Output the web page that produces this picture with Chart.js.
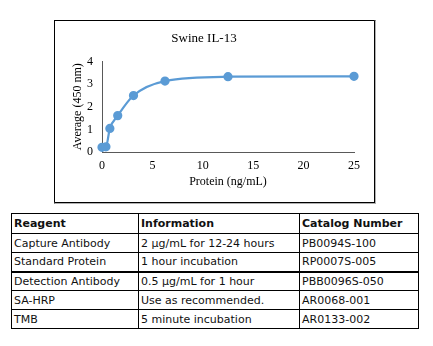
<!DOCTYPE html>
<html>
<head>
<meta charset="utf-8">
<style>
  body { margin: 0; width: 433px; height: 346px; background: #fff; position: relative; overflow: hidden; }
  #frame { position: absolute; left: 54px; top: 20px; width: 322px; height: 184px; box-sizing: border-box;
           border-style: solid; border-color: #000 #b0b0b0 #b0b0b0 #000; border-width: 1px 2px 2px 1px;
           z-index: 2; pointer-events: none; }
  #frame::after { content: ''; position: absolute; left: 0; top: 0; right: -1px; bottom: -1px;
                  border-right: 1px solid #000; border-bottom: 1px solid #000; }
  #chart { position: absolute; left: 54px; top: 20px; display: block; }
  table { position: absolute; left: 11px; top: 213px; border-collapse: collapse; table-layout: fixed; width: 407px;
          font-family: "DejaVu Sans", Verdana, sans-serif; font-size: 11px; color: #111; }
  td, th { border: 1px solid #000; padding: 0 2px; height: 19px; text-align: left; white-space: nowrap; box-sizing: border-box; }
  th { font-weight: bold; height: 20px; }
  tr.split td { border-bottom: 2px solid #000; }
</style>
</head>
<body>
<canvas id="chart" width="321" height="183"></canvas>
<div id="frame"></div>
<table id="reagents">
  <colgroup><col style="width:127px"><col style="width:161px"><col style="width:119px"></colgroup>
  <thead></thead>
  <tbody></tbody>
</table>

<script src="https://cdn.jsdelivr.net/npm/chart.js"></script>
<script>
  // standard curve: protein concentration (ng/mL) vs. average OD at 450 nm
  const concentration = [0, 0.39, 0.78, 1.56, 3.125, 6.25, 12.5, 25];
  const absorbance = [0.21, 0.23, 1.04, 1.61, 2.5, 3.14, 3.33, 3.35];

  const headers = ['Reagent', 'Information', 'Catalog Number'];
  const reagents = ['Capture Antibody', 'Standard Protein', 'Detection Antibody', 'SA-HRP', 'TMB'];
  const information = ['2 µg/mL for 12-24 hours', '1 hour incubation', '0.5 µg/mL for 1 hour', 'Use as recommended.', '5 minute incubation'];
  const catalog = ['PB0094S-100', 'RP0007S-005', 'PBB0096S-050', 'AR0068-001', 'AR0133-002'];

  const serif = 'Liberation Serif';
  const blue = '#5b9bd5';

  const points = concentration.map((x, i) => ({ x, y: absorbance[i] }));

  new Chart(document.getElementById('chart'), {
    type: 'scatter',
    data: {
      datasets: [{
        data: points,
        showLine: true,
        clip: false,
        borderColor: blue,
        backgroundColor: blue,
        borderWidth: 2.25,
        pointRadius: 3.5,
        pointHoverRadius: 3.5,
        cubicInterpolationMode: 'monotone',
      }],
    },
    options: {
      responsive: false,
      animation: false,
      layout: { padding: { left: 0, right: 21, top: 0, bottom: 0 } },
      plugins: {
        legend: { display: false },
        tooltip: { enabled: false },
        title: {
          display: true,
          text: 'Swine IL-13',
          color: '#000',
          font: { family: serif, size: 13, weight: 'normal' },
          padding: { top: 11, bottom: 15 },
        },
      },
      scales: {
        x: {
          type: 'linear',
          min: 0,
          max: 25,
          grid: { display: false, drawTicks: false },
          border: { color: '#595959', width: 1 },
          ticks: { stepSize: 5, padding: 7, color: '#000', font: { family: serif, size: 12 } },
          title: {
            display: true,
            text: 'Protein (ng/mL)',
            color: '#000',
            font: { family: serif, size: 12 },
            padding: { top: 0, bottom: 14 },
          },
          afterFit: (scale) => { scale.height = 51; },
        },
        y: {
          min: 0,
          max: 4,
          grid: { display: false, drawTicks: false },
          border: { color: '#595959', width: 1 },
          ticks: { stepSize: 1, padding: 9, color: '#000', font: { family: serif, size: 12 } },
          title: {
            display: true,
            text: 'Average (450 nm)',
            color: '#000',
            font: { family: serif, size: 12 },
            padding: { top: 16.5, bottom: 0 },
          },
          afterFit: (scale) => { scale.width = 48; },
        },
      },
    },
  });

  // reagent table below the chart
  const table = document.getElementById('reagents');
  const headRow = table.tHead.insertRow();
  headers.forEach((h) => {
    const th = document.createElement('th');
    th.textContent = h;
    headRow.appendChild(th);
  });
  reagents.forEach((name, i) => {
    const row = table.tBodies[0].insertRow();
    if (i === 1) row.className = 'split';
    [name, information[i], catalog[i]].forEach((text) => {
      row.insertCell().textContent = text;
    });
  });
</script>
</body>
</html>
